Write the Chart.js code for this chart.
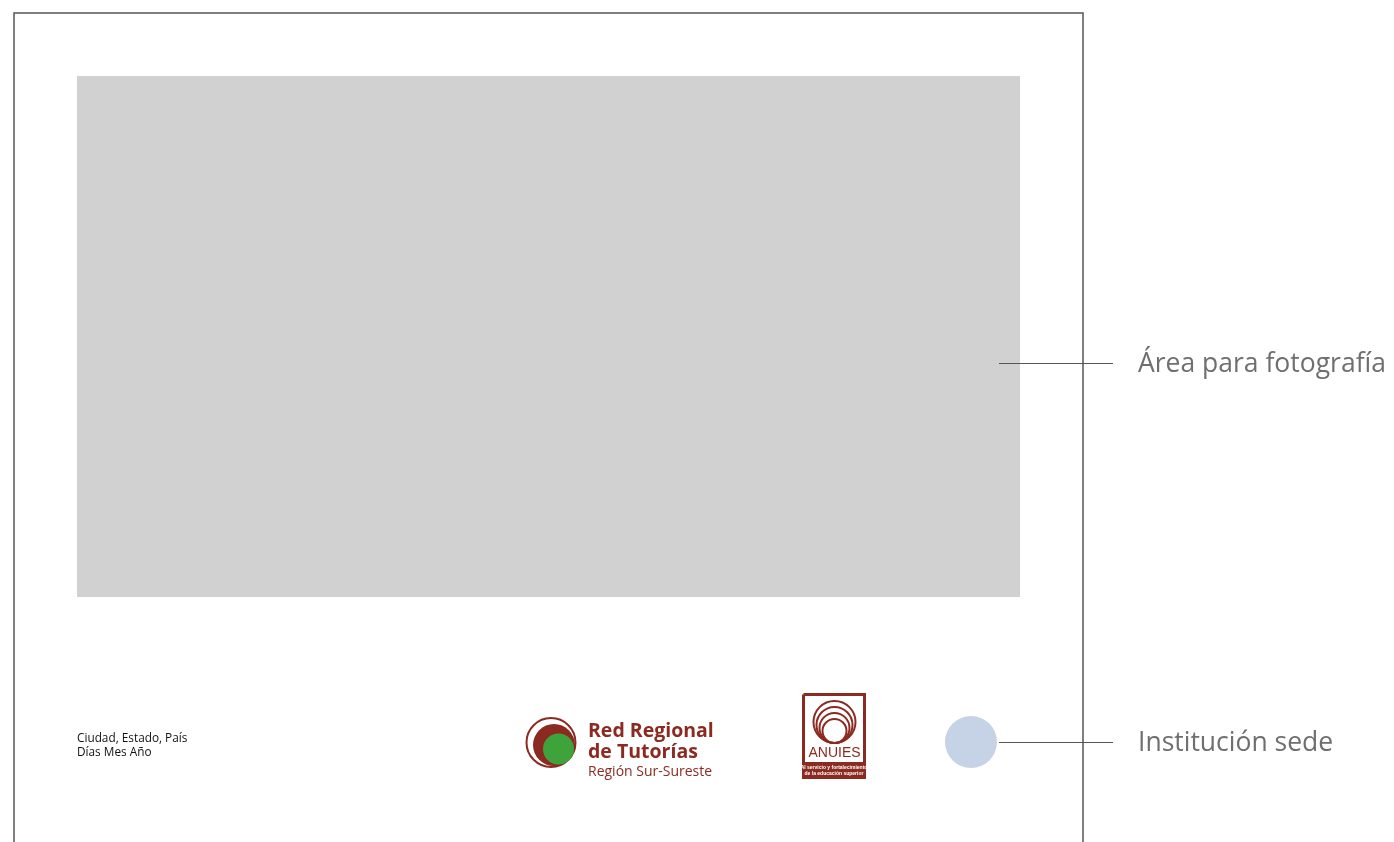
<!DOCTYPE html>
<html>
<head>
<meta charset="utf-8">
<script src="https://cdn.jsdelivr.net/npm/chart.js@4"></script>
<style>
  html, body { margin: 0; padding: 0; background: #fff; }
  canvas { display: block; }
</style>
</head>
<body>
<canvas id="layoutChart" width="1394" height="842"></canvas>
<script>
// Page frame (open at the bottom)
const frameX = [14, 14, 1083, 1083];
const frameY = [845, 13, 13, 845];

// Photo placeholder
const photoX = [77, 1020];
const photoTop = [76, 76];
const photoBottom = [597, 597];

// Callouts on the right
const calloutLabels = ["Área para fotografía", "Institución sede"];
const calloutY = [363, 742];
const calloutX = [999, 1113];
const calloutTextX = 1138;

// Host institution marker
const hostX = [971];
const hostY = [742];

// Place / date
const placeLines = ["Ciudad, Estado, País", "Días Mes Año"];
const placeY = [742, 756];
const placeX = 77;

// Red Regional de Tutorías logo
const redLines = ["Red Regional", "de Tutorías", "Región Sur-Sureste"];
const redLineY = [737, 758, 776];
const redTextX = 588;

// ANUIES logo
const anuiesBoxX = [803.5, 864.5, 864.5, 803.5, 803.5];
const anuiesBoxY = [694.5, 694.5, 777.5, 777.5, 694.5];
const anuiesRings = [21, 18, 15, 12];
const anuiesTagline = ["Al servicio y fortalecimiento", "de la educación superior"];

const RED = "#8b2a20";
const GREEN = "#3ea33a";
const GREY = "#6f6f6f";
const LINE = "#555555";

function toPoints(xs, ys) {
  return xs.map((x, i) => ({ x: x, y: ys[i] }));
}

function lineSet(xs, ys, color, width) {
  return {
    data: toPoints(xs, ys),
    borderColor: color,
    borderWidth: width,
    pointRadius: 0,
    fill: false,
    showLine: true,
    tension: 0,
    clip: false,
  };
}

function pointSet(x, y, radius, fillColor, edgeColor, edgeWidth) {
  return {
    data: [{ x: x, y: y }],
    showLine: false,
    pointRadius: radius,
    pointBackgroundColor: fillColor,
    pointBorderColor: edgeColor,
    pointBorderWidth: edgeWidth,
  };
}

const datasets = [];

// ANUIES rings (bottoms aligned)
anuiesRings.forEach((r) => {
  datasets.push(pointSet(834.5, 743 - r, r, "rgba(0,0,0,0)", RED, 2));
});
// ANUIES box and band
datasets.push(lineSet(anuiesBoxX, anuiesBoxY, RED, 3));
datasets.push({
  ...lineSet([803, 865], [762, 762], RED, 0),
  fill: "+1",
  backgroundColor: RED,
});
datasets.push(lineSet([803, 865], [778, 778], RED, 0));

// Red Regional logo circles
datasets.push(pointSet(558.5, 749, 15.5, GREEN, GREEN, 0));
datasets.push(pointSet(554, 745, 21, RED, RED, 0));
datasets.push(pointSet(551, 742.5, 24.5, "rgba(0,0,0,0)", RED, 2));

// Host marker
datasets.push(pointSet(hostX[0], hostY[0], 26, "#c6d3e6", "#c6d3e6", 0));

// Callout leader lines (half-pixel offset keeps them crisp)
calloutY.forEach((y) => {
  datasets.push(lineSet(calloutX, [y + 0.5, y + 0.5], LINE, 1));
});

// Photo placeholder: fill between top and bottom edges
datasets.push({
  ...lineSet(photoX, photoTop, "#d1d1d1", 0),
  fill: "+1",
  backgroundColor: "#d1d1d1",
});
datasets.push(lineSet(photoX, photoBottom, "#d1d1d1", 0));

// Frame
datasets.push(lineSet(frameX, frameY, LINE, 1.5));

// Text labels drawn through the same scales
const textPlugin = {
  id: "layoutText",
  afterDatasetsDraw(chart) {
    const ctx = chart.ctx;
    const xs = chart.scales.x;
    const ys = chart.scales.y;
    const px = (v) => xs.getPixelForValue(v);
    const py = (v) => ys.getPixelForValue(v);
    ctx.save();

    // Callout labels
    ctx.fillStyle = GREY;
    ctx.font = "26.5px 'Open Sans'";
    ctx.textBaseline = "middle";
    ctx.textAlign = "left";
    calloutLabels.forEach((label, i) => {
      ctx.fillText(label, px(calloutTextX), py(calloutY[i]) + 1);
    });

    // Place and date
    ctx.fillStyle = "#111";
    ctx.font = "11.8px 'Open Sans'";
    ctx.textBaseline = "alphabetic";
    placeLines.forEach((label, i) => {
      ctx.fillText(label, px(placeX), py(placeY[i]));
    });

    // Red Regional de Tutorías
    ctx.fillStyle = RED;
    redLines.forEach((label, i) => {
      ctx.font = i < 2 ? "bold 19.5px 'Open Sans'" : "14px 'Open Sans'";
      ctx.fillText(label, px(redTextX), py(redLineY[i]));
    });

    // ANUIES
    ctx.textAlign = "center";
    ctx.font = "14px 'Liberation Sans'";
    ctx.fillText("ANUIES", px(834.5), py(757));
    ctx.fillStyle = "#fff";
    ctx.font = "bold 5px 'Liberation Sans'";
    ctx.fillText(anuiesTagline[0], px(834), py(768.5));
    ctx.fillText(anuiesTagline[1], px(834), py(775));

    ctx.restore();
  },
};

new Chart(document.getElementById("layoutChart").getContext("2d"), {
  type: "line",
  data: { datasets: datasets },
  options: {
    responsive: false,
    animation: false,
    events: [],
    layout: { padding: 0, autoPadding: false },
    plugins: {
      legend: { display: false },
      tooltip: { enabled: false },
    },
    scales: {
      x: { type: "linear", min: 0, max: 1394, display: false },
      y: { type: "linear", min: 0, max: 842, reverse: true, display: false },
    },
  },
  plugins: [textPlugin],
});
</script>
</body>
</html>
